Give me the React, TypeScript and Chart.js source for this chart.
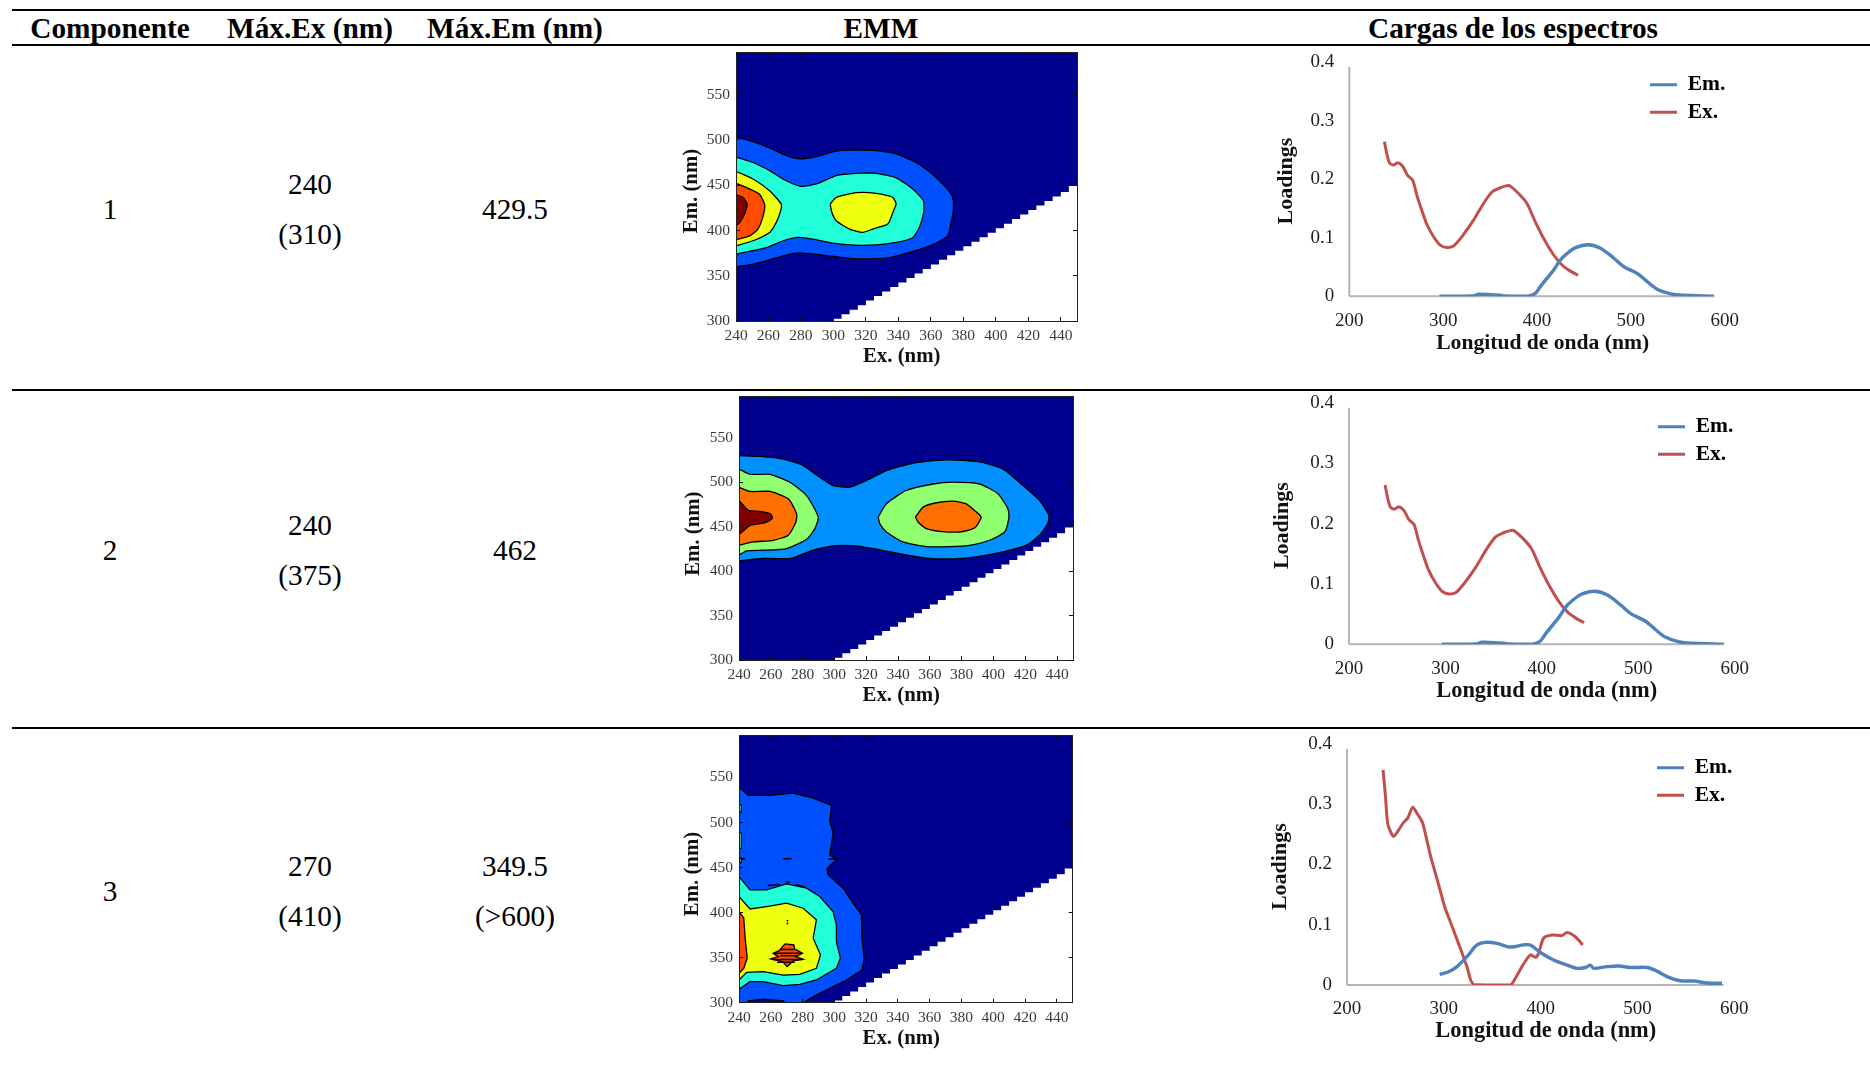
import React, { useEffect, useRef } from "react";
import { Chart, registerables } from "chart.js";

Chart.register(...registerables);

type P = [number, number];

const tableHeaders = ["Componente", "Máx.Ex (nm)", "Máx.Em (nm)", "EMM", "Cargas de los espectros"];
const componentIds = ["1", "2", "3"];
const maxExPrimary = ["240", "240", "270"];
const maxExSecondary = ["(310)", "(375)", "(410)"];
const maxEmPrimary = ["429.5", "462", "349.5"];
const maxEmSecondary = ["", "", "(>600)"];

const SERIF = "'Liberation Serif', 'Times New Roman', serif";

// ---- EMM: contour outlines, [Ex nm, Em nm]
const emmExTicks = { min: 240, max: 450, step: 20 };
const emmEmTicks = { min: 300, max: 597, step: 50 };
const emmBackground: P[] = [[240, 300], [240, 597], [450, 597], [450, 300]];
const maskSteps: P[] = [
  [300, 300], [300, 302.5], [305, 302.5], [305, 307.5], [310, 307.5], [310, 312.5], [315, 312.5], [315, 317.5],
  [320, 317.5], [320, 322.5], [325, 322.5], [325, 327.5], [330, 327.5], [330, 332.5], [335, 332.5], [335, 337.5],
  [340, 337.5], [340, 342.5], [345, 342.5], [345, 347.5], [350, 347.5], [350, 352.5], [355, 352.5], [355, 357.5],
  [360, 357.5], [360, 362.5], [365, 362.5], [365, 367.5], [370, 367.5], [370, 372.5], [375, 372.5], [375, 377.5],
  [380, 377.5], [380, 382.5], [385, 382.5], [385, 387.5], [390, 387.5], [390, 392.5], [395, 392.5], [395, 397.5],
  [400, 397.5], [400, 402.5], [405, 402.5], [405, 407.5], [410, 407.5], [410, 412.5], [415, 412.5], [415, 417.5],
  [420, 417.5], [420, 422.5], [425, 422.5], [425, 427.5], [430, 427.5], [430, 432.5], [435, 432.5], [435, 437.5],
  [440, 437.5], [440, 442.5], [445, 442.5], [445, 449], [450, 449], [450, 300],
];

const c1Blue: P[] = [[240, 503], [250.5, 498], [260.7, 491], [271, 482.7], [280, 479], [289.4, 481.5], [301.7, 487.5], [314, 488.6], [326.3, 488], [338.6, 484.5], [350.9, 475], [361, 462], [369.3, 447.6], [373.4, 436.5], [373.8, 421.8], [372, 405], [370.3, 394], [361, 384], [348.8, 376.8], [334.5, 370], [322, 368.6], [310, 369], [297.6, 372], [285.3, 374.5], [277, 375], [269, 372], [258.6, 366.4], [248.4, 362], [240, 360]];
const c1Cyan: P[] = [[240, 481], [250.5, 475], [260.7, 466], [270, 455.7], [280, 448.7], [289.4, 451.3], [301.7, 460.5], [314, 463], [326.3, 463], [338.6, 458], [348.8, 445.8], [355.4, 432.8], [355.6, 420], [352.9, 403.3], [348.8, 392], [338.6, 386.7], [326.3, 384], [313, 383.8], [299.6, 386], [287.3, 390.4], [279, 392.3], [269, 388.6], [258.6, 381], [248.4, 376.8], [240, 373.8]];
const c1YellowLeft: P[] = [[240, 465.3], [250.5, 456.8], [260.7, 443.9], [267.9, 429], [267.5, 421.8], [264.8, 408.9], [260.7, 397.8], [250.5, 388.6], [240, 383]];
const c1YellowCentre: P[] = [[298, 429], [301.7, 436.5], [314, 441.7], [326.3, 441], [336.5, 436.5], [338.6, 429], [337, 421.8], [333.5, 407], [324.2, 401.5], [318, 397.8], [310, 401.5], [301.7, 410.7], [299, 420], [298, 429]];
const c1Orange: P[] = [[240, 452], [248.4, 445.8], [254.5, 440], [257.6, 429], [257, 417.8], [253.5, 401.5], [248.4, 394], [240, 389.7]];
const c1DarkRed: P[] = [[240, 439.5], [244.3, 436.5], [246.8, 429], [245.3, 418], [242.3, 409], [240, 405]];

const c2Blue: P[] = [[240, 529.9], [253.2, 529.1], [267.8, 526], [280.4, 518.7], [290.8, 505.6], [299.2, 496.3], [309.7, 494.4], [320.1, 501.9], [332.7, 513], [347.3, 520.5], [362, 524.3], [374.5, 525], [391.3, 523], [405.9, 515], [418.5, 496.3], [428.9, 479.5], [434.8, 462.7], [434.1, 453.4], [428.9, 440.3], [420.5, 429], [405.9, 421.6], [389.2, 416], [374.5, 413.8], [359.9, 414.2], [343.1, 418.7], [326.4, 424.6], [313.8, 428.4], [301.3, 428.7], [288.7, 424.6], [280.4, 419.4], [272, 414.2], [255.3, 414.2], [240, 411.6]];
const c2GreenLeft: P[] = [[240, 514.9], [246.9, 508.9], [259.5, 508.9], [272, 500], [282.5, 485], [289.8, 460.8], [287.7, 447.8], [282.5, 435.8], [270, 425.4], [255.3, 423.5], [244.8, 422.8], [240, 417.9]];
const c2GreenRight: P[] = [[327.5, 460.8], [332.7, 475.7], [345.1, 490.7], [362, 498], [374.5, 500], [391.3, 498], [402.8, 487], [409.1, 470], [409.7, 460.8], [407, 444], [397.6, 434.7], [385, 429], [372.4, 427.6], [357.8, 427.6], [343.1, 432.8], [332.7, 444], [328.5, 453.4], [327.5, 460.8]];
const c2OrangeLeft: P[] = [[240, 494.4], [246.9, 489.6], [259.5, 489.6], [271, 481.3], [276.2, 464.6], [275.8, 455.2], [271, 440.3], [261.6, 434.7], [249, 432.8], [240, 429]];
const c2OrangeRight: P[] = [[350.9, 460.8], [355.8, 472], [364.1, 476.9], [374.5, 478.7], [382.9, 475.7], [388.1, 468.3], [392.3, 460.8], [388.1, 448.5], [378.7, 444], [366.2, 444.8], [357.8, 447.8], [352.6, 455.2], [350.9, 460.8]];
const c2DarkRed: P[] = [[240, 479.5], [245.9, 468.3], [253.2, 467.2], [259.5, 464.6], [261.1, 460], [257.4, 455.2], [253.2, 453.4], [246.9, 451.5], [240, 441]];

const c3Blue: P[] = [[240, 538.9], [245.9, 530], [259.5, 530], [274, 532.6], [286.7, 527], [298.2, 518.9], [297.1, 501], [299.2, 488], [297.1, 464], [301.3, 459], [295.4, 449], [296, 441.9], [305.5, 427], [311.8, 410.4], [317, 397.5], [317.4, 371.5], [318.7, 349.3], [317.4, 336.3], [307.6, 325.2], [297.1, 316], [286.7, 306.7], [280.4, 300], [240, 300]];
const c3Cyan: P[] = [[240, 440], [246.9, 425.2], [257.4, 425.2], [269.9, 431.9], [282.5, 427], [290.8, 417.8], [299.2, 401], [301.3, 386.3], [301.3, 367.8], [303.8, 349.3], [301.3, 338.1], [288.7, 325.2], [278.2, 320.4], [267.8, 318.9], [255.3, 323.4], [246.9, 323.4], [240, 314.8]];
const c3Yellow: P[] = [[240, 417.8], [246.9, 404], [257.4, 406.7], [269.9, 410.4], [280.4, 404.8], [288.7, 391.9], [286.7, 371.5], [291.3, 353], [288.7, 338.1], [278.2, 331.5], [267.8, 330.7], [255.3, 334.4], [244.8, 333.7], [240, 325.2]];
const c3OrangeLeft: P[] = [[240, 401], [243, 394], [243.9, 371.5], [245.2, 349.3], [243, 338], [240, 332.6]];
const c3OrangeCentre: P[] = [[268.9, 365.2], [274.5, 364.1], [275.1, 359.6], [280, 354.8], [275.8, 351.1], [280.4, 348.1], [274.1, 346.3], [270.3, 340], [267.4, 345.6], [259.9, 348.5], [264.7, 351.1], [261.5, 354.8], [265.3, 357.8], [268.9, 365.2]];
const c3NavyPatch: P[] = [[244.8, 300], [246, 302], [255.3, 304], [267.8, 302], [269, 300]];
const c3CyanSliverA: P[] = [[240, 520], [241.5, 519], [241.5, 512], [240, 510]];
const c3CyanSliverB: P[] = [[240, 490], [241.5, 488], [241.5, 472], [240, 470]];
const c3CyanSliverC: P[] = [[240, 461], [242, 460], [241, 455], [240, 455]];
const c3Streaks: P[][] = [
  [[262, 355], [279, 355]], [[261, 348], [280, 348]], [[266, 359], [275, 359]], [[264, 345], [275, 345]], [[266, 352], [277, 352]],
  [[267.8, 459.6], [273, 459.6]], [[240, 459.6], [244, 459.6]], [[258, 430], [266, 431]], [[276, 431], [282, 428]],
  [[269.5, 434], [272, 434]], [[270, 391], [271, 391]], [[270, 388], [271, 388]], [[296, 459.5], [302, 459.5]],
];

// ---- Loadings spectra, [wavelength nm, loading]
const specEx12: P[] = [[237.4, 0.264], [239.9, 0.244], [242.7, 0.228], [247, 0.224], [251.6, 0.228], [256.9, 0.222], [261.9, 0.207], [267.6, 0.198], [271.9, 0.173], [277.2, 0.147], [282.6, 0.123], [289.7, 0.102], [296.8, 0.0875], [303.9, 0.0835], [311, 0.086], [320, 0.102], [332.4, 0.13], [343, 0.1585], [352, 0.178], [359, 0.184], [369.8, 0.189], [378.7, 0.178], [389.3, 0.1585], [398.2, 0.127], [407, 0.099], [417.8, 0.0705], [426.7, 0.0534], [435.6, 0.043], [443.8, 0.036]];
const specEm12: P[] = [[296, 0], [332.4, 0.0006], [337.7, 0.0034], [346.6, 0.003], [360.9, 0.0017], [366, 0.0006], [391, 0.0006], [398.2, 0.005], [403.5, 0.0165], [410.7, 0.031], [417.8, 0.045], [424.9, 0.062], [432, 0.073], [441, 0.083], [455.2, 0.088], [467.6, 0.082], [481.9, 0.065], [492.6, 0.0505], [506.8, 0.039], [517.4, 0.025], [528, 0.012], [542.4, 0.004], [556.6, 0.0017], [578, 0.0006], [588.6, 0]];
const specEx3: P[] = [[237.2, 0.357], [239.6, 0.316], [242.3, 0.266], [248.2, 0.2465], [253.4, 0.2576], [258.5, 0.27], [262.7, 0.277], [267.8, 0.295], [272.3, 0.285], [278.1, 0.269], [286, 0.216], [294.7, 0.166], [301.5, 0.127], [306.7, 0.105], [317, 0.061], [323.9, 0.0305], [330.8, 0.001], [368.7, 0], [373.8, 0.011], [380.7, 0.0305], [389.3, 0.05], [394.5, 0.046], [397.9, 0.0526], [403, 0.0776], [411.7, 0.083], [422, 0.082], [427.2, 0.087], [435.8, 0.08], [443.4, 0.0665]];
const specEm3: P[] = [[295.7, 0.0177], [305, 0.022], [313.6, 0.0305], [323.9, 0.047], [334.3, 0.0665], [344.6, 0.071], [354.9, 0.069], [368.7, 0.063], [382.4, 0.0665], [389.3, 0.0665], [399.7, 0.054], [413.4, 0.0415], [427.2, 0.033], [437.5, 0.0277], [446.1, 0.029], [451.3, 0.033], [454.7, 0.0277], [468.5, 0.0305], [480.6, 0.0316], [492.6, 0.029], [509.8, 0.029], [520.1, 0.023], [530.5, 0.014], [544.2, 0.007], [558, 0.0066], [571.8, 0.0033], [587.3, 0.0028]];
const specXAxisEnd = 589;
const specYAxisEnd = 0.392;

const NAVY = "#00008f";
const BLUE1 = "#0050ff";
const BLUE2 = "#0090ff";
const CYAN = "#20ffd8";
const YELLOW = "#efff10";
const GREEN = "#90ff70";
const ORANGE1 = "#ff4a00";
const ORANGE2 = "#ff7000";
const DARKRED = "#800000";
const EM_COLOR = "#4f81bd";
const EX_COLOR = "#c0504d";

type Layer = { pts: P[]; color: string | null };

const emmLayers1: Layer[] = [
  { pts: c1Blue, color: BLUE1 }, { pts: c1Cyan, color: CYAN }, { pts: c1YellowLeft, color: YELLOW },
  { pts: c1YellowCentre, color: YELLOW }, { pts: c1Orange, color: ORANGE1 }, { pts: c1DarkRed, color: DARKRED },
];
const emmLayers2: Layer[] = [
  { pts: c2Blue, color: BLUE2 }, { pts: c2GreenLeft, color: GREEN }, { pts: c2GreenRight, color: GREEN },
  { pts: c2OrangeLeft, color: ORANGE2 }, { pts: c2OrangeRight, color: ORANGE2 }, { pts: c2DarkRed, color: DARKRED },
];
const emmLayers3: Layer[] = [
  { pts: c3Blue, color: BLUE1 }, { pts: c3NavyPatch, color: NAVY }, { pts: c3CyanSliverA, color: CYAN },
  { pts: c3CyanSliverB, color: CYAN }, { pts: c3CyanSliverC, color: CYAN }, { pts: c3Cyan, color: CYAN },
  { pts: c3Yellow, color: YELLOW }, { pts: c3OrangeLeft, color: ORANGE1 }, { pts: c3OrangeCentre, color: ORANGE1 },
  ...c3Streaks.map((pts) => ({ pts, color: null })),
];

const toXY = (pts: P[]) => pts.map(([x, y]) => ({ x, y }));

type Box = { left: number; right: number; top: number; bottom: number; w: number; h: number };
type Frame = { x: number; y: number; box: Box };

const PAD_R = 30;
const PAD_T = 30;

// centres the axis titles on given page positions; text and font come from the scales' own title options
function axisTitlePlugin(f: Frame, xPos: P, yPos: P) {
  return {
    id: "axisTitles",
    afterDraw(chart: any) {
      const ctx = chart.ctx;
      const put = (id: string, pos: P, rot: number) => {
        const t = chart.scales[id].options.title;
        ctx.save();
        ctx.font = `${t.font.weight} ${t.font.size}px ${t.font.family}`;
        ctx.fillStyle = t.color;
        ctx.textAlign = "center";
        ctx.textBaseline = "middle";
        ctx.translate(pos[0] - f.x, pos[1] - f.y);
        ctx.rotate(rot);
        ctx.fillText(t.text, 0, 0);
        ctx.restore();
      };
      put("x", xPos, 0);
      put("y", yPos, -Math.PI / 2);
    },
  };
}

function emmConfig(layers: Layer[], f: Frame, tension: number, xPos: P, yPos: P) {
  const box = f.box;
  const polys: any[] = [
    { data: toXY(emmBackground), backgroundColor: NAVY, borderWidth: 0, fill: "shape", tension: 0 },
    ...layers.map((l) =>
      l.color
        ? { data: toXY(l.pts), backgroundColor: l.color, borderColor: "#000", borderWidth: 1.3, fill: "shape", tension }
        : { data: toXY(l.pts), borderColor: "#000", borderWidth: 1.5, fill: false, tension: 0 }
    ),
    { data: toXY(maskSteps), backgroundColor: "#ffffff", borderWidth: 0, fill: "shape", tension: 0 },
  ];
  polys.forEach((d) => { d.showLine = true; d.pointRadius = 0; d.pointHoverRadius = 0; });
  const tickFont = { family: SERIF, size: 15.5 };
  const titleFont = { family: SERIF, size: 20.8, weight: "bold" as const };
  const gridBase = { drawOnChartArea: false, tickLength: -4, color: "#111", z: 1 };
  const borderBase = { color: "#222", width: 1, z: 1 };
  const exRange = { type: "linear" as const, min: emmExTicks.min, max: emmExTicks.max };
  const emRange = { type: "linear" as const, min: emmEmTicks.min, max: emmEmTicks.max };
  return {
    type: "scatter" as const,
    data: { datasets: polys.reverse() },
    plugins: [axisTitlePlugin(f, xPos, yPos)],
    options: {
      animation: false as const, responsive: false, events: [] as any[],
      layout: { padding: { left: 0, top: box.top, right: box.w - box.right, bottom: 0 } },
      plugins: { legend: { display: false }, tooltip: { enabled: false } },
      scales: {
        x: {
          ...exRange, position: "bottom" as const, grid: gridBase, border: borderBase,
          ticks: { stepSize: emmExTicks.step, includeBounds: false, maxRotation: 0, autoSkip: false, font: tickFont, color: "#3a3a3a", padding: 10 },
          title: { display: false, text: "Ex. (nm)", font: titleFont, color: "#111" },
          afterFit: (s: any) => { s.height = box.h - box.bottom; },
        },
        y: {
          ...emRange, position: "left" as const, grid: gridBase, border: borderBase,
          ticks: { stepSize: emmEmTicks.step, includeBounds: false, autoSkip: false, font: tickFont, color: "#3a3a3a", padding: 10 },
          title: { display: false, text: "Em. (nm)", font: titleFont, color: "#111" },
          afterFit: (s: any) => { s.width = box.left; },
        },
        xTop: {
          ...exRange, position: "top" as const, grid: gridBase, border: borderBase,
          ticks: { stepSize: emmExTicks.step, includeBounds: false, display: false },
          afterFit: (s: any) => { s.height = 0; },
        },
        yRight: {
          ...emRange, position: "right" as const, grid: gridBase, border: borderBase,
          ticks: { stepSize: emmEmTicks.step, includeBounds: false, display: false },
          afterFit: (s: any) => { s.width = 0; },
        },
      },
    },
  };
}

function specConfig(em: P[], ex: P[], f: Frame, legendPos: P, xPos: P, yPos: P, xTitleSize: number) {
  const box = f.box;
  const axisLine = { borderColor: "#b5b5b5", borderWidth: 2, clip: false as any, fill: false };
  const datasets: any[] = [
    { label: "Em.", data: toXY(em), borderColor: EM_COLOR, backgroundColor: EM_COLOR, borderWidth: 3.4, tension: 0.3 },
    { label: "Ex.", data: toXY(ex), borderColor: EX_COLOR, backgroundColor: EX_COLOR, borderWidth: 3, tension: 0.25 },
    { label: "x-axis", data: [{ x: 200, y: 0 }, { x: specXAxisEnd, y: 0 }], ...axisLine },
    { label: "y-axis", data: [{ x: 200, y: 0 }, { x: 200, y: specYAxisEnd }], ...axisLine },
  ];
  datasets.forEach((d) => { d.showLine = true; d.pointRadius = 0; d.pointHoverRadius = 0; });
  const tickFont = { family: SERIF, size: 19 };
  const placeLegend = {
    id: "placeLegend",
    afterLayout(chart: any) {
      const lg = chart.legend;
      const w = lg.width, h = lg.height;
      const lx = legendPos[0] - f.x, ly = legendPos[1] - f.y;
      lg.left = lx; lg.top = ly; lg.right = lx + w; lg.bottom = ly + h;
    },
  };
  return {
    type: "scatter" as const,
    data: { datasets },
    plugins: [placeLegend, axisTitlePlugin(f, xPos, yPos)],
    options: {
      animation: false as const, responsive: false, events: [] as any[],
      layout: { padding: { left: 0, top: box.top, right: box.w - box.right, bottom: 0 } },
      plugins: {
        tooltip: { enabled: false },
        legend: {
          position: "chartArea" as const, align: "start" as const,
          labels: {
            boxWidth: 27, boxHeight: 3, padding: 6, color: "#111",
            font: { family: SERIF, size: 21.5, weight: "bold" as const },
            generateLabels: () => [
              { text: "Em.", fillStyle: EM_COLOR, strokeStyle: EM_COLOR, lineWidth: 0, datasetIndex: 0, hidden: false },
              { text: "Ex.", fillStyle: EX_COLOR, strokeStyle: EX_COLOR, lineWidth: 0, datasetIndex: 1, hidden: false },
            ],
          },
        },
      },
      scales: {
        x: {
          type: "linear" as const, min: 200, max: 600, position: "bottom" as const,
          grid: { display: false }, border: { display: false },
          ticks: { stepSize: 100, maxRotation: 0, autoSkip: false, font: tickFont, color: "#222", padding: 5 },
          title: { display: false, text: "Longitud de onda (nm)", font: { family: SERIF, size: xTitleSize, weight: "bold" as const }, color: "#111" },
          afterFit: (s: any) => { s.height = box.h - box.bottom; },
        },
        y: {
          type: "linear" as const, min: 0, max: 0.4, position: "left" as const,
          grid: { display: false }, border: { display: false },
          ticks: {
            stepSize: 0.1, autoSkip: false, font: tickFont, color: "#222", padding: 7,
            callback: (v: any) => (v === 0 ? "0" : Number(v).toFixed(1)),
          },
          title: { display: false, text: "Loadings", font: { family: SERIF, size: 22, weight: "bold" as const }, color: "#111" },
          afterFit: (s: any) => { s.width = box.left; },
        },
      },
    },
  };
}

// plot rectangle in page pixels, plus the canvas margins around it
function frame(pl: number, pr: number, pt: number, pb: number, leftRoom: number, bottomRoom: number): Frame {
  const x = Math.floor(pl - leftRoom);
  const y = Math.floor(pt - PAD_T);
  const box: Box = {
    left: pl - x, right: pr - x, top: pt - y, bottom: pb - y,
    w: Math.ceil(pr - x + PAD_R), h: Math.ceil(pb - y + bottomRoom),
  };
  return { x, y, box };
}

const emmFrames = [
  frame(736, 1077, 52, 321, 56, 48),
  frame(739, 1073, 396, 660, 57, 48),
  frame(739, 1072.7, 735, 1002.7, 58, 48),
];
const specFrames = [
  frame(1349.3, 1724.7, 62, 296.3, 76, 60),
  frame(1349, 1734.7, 403, 644.3, 80, 60),
  frame(1347, 1734.3, 744, 985, 80, 60),
];
const legendAnchors: P[] = [[1644, 68], [1652, 410], [1651, 751]];
const emmXTitles: P[] = [[901.7, 356.7], [901.3, 695.7], [901.3, 1039]];
const emmYTitles: P[] = [[691.7, 191], [694, 533.7], [693, 874]];
const specXTitles: P[] = [[1542.7, 343], [1546.7, 691], [1545.8, 1031]];
const specYTitles: P[] = [[1286, 181], [1282, 525.7], [1280, 866.7]];
const specXTitleSizes = [21.6, 22.4, 22.4];

function ChartBox({ f, make }: { f: Frame; make: () => any }) {
  const ref = useRef<HTMLCanvasElement | null>(null);
  useEffect(() => {
    if (!ref.current) return;
    const c: any = new Chart(ref.current, make());
    // settle the plot rectangle exactly on the frame
    for (let i = 0; i < 3; i++) {
      const pad = c.options.layout.padding;
      const a = c.chartArea;
      c.options.layout.padding = {
        left: pad.left + (f.box.left - a.left),
        top: pad.top + (f.box.top - a.top),
        right: pad.right + (a.right - f.box.right),
        bottom: pad.bottom + (a.bottom - f.box.bottom),
      };
      c.update();
    }
    return () => c.destroy();
  }, []);
  return (
    <canvas
      ref={ref}
      width={f.box.w}
      height={f.box.h}
      style={{ position: "absolute", left: f.x, top: f.y, width: f.box.w, height: f.box.h }}
    />
  );
}

const cellStyle = (x: number, y: number, bold = false): React.CSSProperties => ({
  position: "absolute", left: x, top: y, transform: "translate(-50%,-50%)", whiteSpace: "nowrap",
  fontFamily: SERIF, fontSize: 29.3, fontWeight: bold ? 700 : 400, color: "#000", lineHeight: 1,
});

const ruleYs = [9, 44, 389, 727];
const headerXs = [110, 310, 515, 881, 1513];
const colXs = [110, 310, 515];
const rowCentreYs = [210, 551, 892];
const rowOffset = 25;

export default function App() {
  useEffect(() => { document.body.style.margin = "0"; document.body.style.background = "#fff"; }, []);
  return (
    <div style={{ position: "absolute", left: 0, top: 0, width: 1870, height: 1065, overflow: "hidden", background: "#fff" }}>
      {ruleYs.map((y) => (
        <div key={y} style={{ position: "absolute", left: 12, top: y, width: 1858, height: 2, background: "#000" }} />
      ))}
      {tableHeaders.map((h, i) => (
        <div key={h} style={cellStyle(headerXs[i], 29, true)}>{h}</div>
      ))}
      {componentIds.map((id, i) => (
        <React.Fragment key={id}>
          <div style={cellStyle(colXs[0], rowCentreYs[i])}>{id}</div>
          <div style={cellStyle(colXs[1], rowCentreYs[i] - rowOffset)}>{maxExPrimary[i]}</div>
          <div style={cellStyle(colXs[1], rowCentreYs[i] + rowOffset)}>{maxExSecondary[i]}</div>
          {maxEmSecondary[i] ? (
            <>
              <div style={cellStyle(colXs[2], rowCentreYs[i] - rowOffset)}>{maxEmPrimary[i]}</div>
              <div style={cellStyle(colXs[2], rowCentreYs[i] + rowOffset)}>{maxEmSecondary[i]}</div>
            </>
          ) : (
            <div style={cellStyle(colXs[2], rowCentreYs[i])}>{maxEmPrimary[i]}</div>
          )}
        </React.Fragment>
      ))}
      <ChartBox f={emmFrames[0]} make={() => emmConfig(emmLayers1, emmFrames[0], 0.2, emmXTitles[0], emmYTitles[0])} />
      <ChartBox f={emmFrames[1]} make={() => emmConfig(emmLayers2, emmFrames[1], 0.2, emmXTitles[1], emmYTitles[1])} />
      <ChartBox f={emmFrames[2]} make={() => emmConfig(emmLayers3, emmFrames[2], 0, emmXTitles[2], emmYTitles[2])} />
      {specFrames.map((f, i) => (
        <ChartBox
          key={i}
          f={f}
          make={() =>
            specConfig(i < 2 ? specEm12 : specEm3, i < 2 ? specEx12 : specEx3, f, legendAnchors[i], specXTitles[i], specYTitles[i], specXTitleSizes[i])
          }
        />
      ))}
    </div>
  );
}
